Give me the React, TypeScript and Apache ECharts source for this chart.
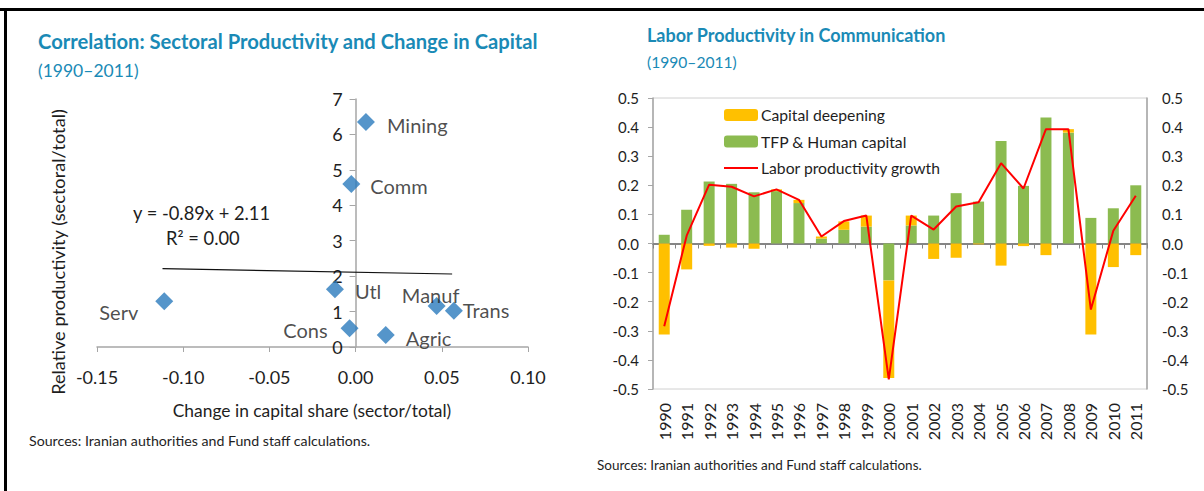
import React, { useEffect, useRef } from "react";
import * as echarts from "echarts";

// ---------- Left chart data ----------
const SECTORS = ["Mining", "Comm", "Utl", "Serv", "Manuf", "Trans", "Cons", "Agric"];
const CAPITAL_SHARE_CHANGE = [0.006, -0.0025, -0.012, -0.111, 0.047, 0.057, -0.0035, 0.0175];
const RELATIVE_PRODUCTIVITY = [6.35, 4.6, 1.63, 1.29, 1.16, 1.02, 0.53, 0.34];
const TREND_X = [-0.112, 0.056];
const TREND_Y = [2.21, 2.06];
const LEFT_X_TICKS = [-0.15, 0.1, 0.05];
const LEFT_Y_TICKS = [0, 7, 1];

// ---------- Right chart data ----------
const YEARS = [
  "1990", "1991", "1992", "1993", "1994", "1995", "1996", "1997", "1998", "1999", "2000",
  "2001", "2002", "2003", "2004", "2005", "2006", "2007", "2008", "2009", "2010", "2011",
];
const CAPITAL_DEEPENING = [
  -0.313, -0.089, -0.008, -0.014, -0.018, 0.006, 0.011, 0.007, 0.029, 0.038, -0.335,
  0.034, -0.053, -0.049, -0.003, -0.076, -0.009, -0.04, 0.012, -0.313, -0.081, -0.04,
];
const TFP_HUMAN_CAPITAL = [
  0.03, 0.116, 0.213, 0.205, 0.176, 0.18, 0.139, 0.017, 0.047, 0.058, -0.127,
  0.062, 0.096, 0.173, 0.144, 0.352, 0.198, 0.433, 0.381, 0.088, 0.121, 0.2,
];
const LABOR_PRODUCTIVITY = [
  -0.284, 0.027, 0.202, 0.195, 0.162, 0.186, 0.15, 0.024, 0.077, 0.096, -0.467,
  0.096, 0.048, 0.127, 0.142, 0.276, 0.189, 0.393, 0.393, -0.227, 0.044, 0.164,
];
const RIGHT_Y_TICKS = [-0.5, 0.5, 0.1];

// label layout (presentation only)
const LABEL_LAYOUT: any[] = [
  { position: "right", distance: 12, offset: [0, 3] },
  { position: "right", distance: 10, offset: [0, 2] },
  { position: "right", distance: 11, offset: [0, 2] },
  { position: "left", distance: 17, offset: [0, 11] },
  { position: "inside", offset: [-6, -11] },
  { position: "right", distance: 0, offset: [0, -1] },
  { position: "left", distance: 13, offset: [0, 2] },
  { position: "right", distance: 11, offset: [0, 3] },
];

const FONT = "Lato";
const TITLE_COLOR = "#1a8ab6";
const TEXT = "#1e1e1e";
const AXIS_GRAY = "#a6a6a6";

const LEFT_GRID = { left: 97, top: 99, width: 431, height: 248 };

export default function App() {
  const ref = useRef<HTMLDivElement>(null);
  useEffect(() => {
    const chart = echarts.init(ref.current!, null, { renderer: "svg" });
    // y axis of the left chart crosses the x axis at 0
    const zeroOffset = -LEFT_GRID.width * (0 - LEFT_X_TICKS[0]) / (LEFT_X_TICKS[1] - LEFT_X_TICKS[0]);
    const option: any = {
      animation: false,
      backgroundColor: "#ffffff",
      textStyle: { fontFamily: FONT },
      grid: [
        { ...LEFT_GRID, show: false },
        { left: 653, top: 98, width: 494, height: 291, show: true, borderColor: "#d0d0d0", borderWidth: 1, backgroundColor: "transparent" },
      ],
      xAxis: [
        {
          type: "value", gridIndex: 0,
          min: LEFT_X_TICKS[0], max: LEFT_X_TICKS[1], interval: LEFT_X_TICKS[2],
          axisLine: { onZero: false, lineStyle: { color: AXIS_GRAY, width: 1.5 } },
          axisTick: { show: true, inside: false, length: 5, lineStyle: { color: AXIS_GRAY } },
          splitLine: { show: false },
          axisLabel: { formatter: (v: number) => v.toFixed(2), fontSize: 18, color: TEXT, fontFamily: FONT, margin: 21 },
        },
        {
          type: "category", gridIndex: 1, data: YEARS, position: "bottom",
          axisLine: { show: false, onZero: false },
          axisTick: { show: false },
          axisLabel: { rotate: 90, fontSize: 16, color: TEXT, fontFamily: FONT, margin: 14, interval: 0 },
        },
        {
          type: "category", gridIndex: 1, data: YEARS, position: "bottom",
          axisLine: { show: true, onZero: true, onZeroAxisIndex: 1, lineStyle: { color: "#858585", width: 2 } },
          axisTick: { show: true, inside: false, length: 5, interval: 0, lineStyle: { color: "#858585", width: 1 } },
          axisLabel: { show: false },
        },
      ],
      yAxis: [
        {
          type: "value", gridIndex: 0, position: "left", offset: zeroOffset,
          min: LEFT_Y_TICKS[0], max: LEFT_Y_TICKS[1], interval: LEFT_Y_TICKS[2],
          axisLine: { show: true, onZero: false, lineStyle: { color: AXIS_GRAY, width: 1.5 } },
          axisTick: { show: true, inside: false, length: 6, lineStyle: { color: AXIS_GRAY } },
          splitLine: { show: false },
          axisLabel: { fontSize: 18, color: TEXT, fontFamily: FONT, margin: 13 },
        },
        {
          type: "value", gridIndex: 1, position: "left",
          min: RIGHT_Y_TICKS[0], max: RIGHT_Y_TICKS[1], interval: RIGHT_Y_TICKS[2],
          axisLine: { show: true, onZero: false, lineStyle: { color: AXIS_GRAY, width: 1.5 } },
          axisTick: { show: true, inside: false, length: 5, lineStyle: { color: AXIS_GRAY } },
          splitLine: { show: false },
          axisLabel: { formatter: (v: number) => v.toFixed(1), fontSize: 15, color: TEXT, fontFamily: FONT, margin: 14 },
        },
        {
          type: "value", gridIndex: 1, position: "right",
          min: RIGHT_Y_TICKS[0], max: RIGHT_Y_TICKS[1], interval: RIGHT_Y_TICKS[2],
          axisLine: { show: true, onZero: false, lineStyle: { color: AXIS_GRAY, width: 1.5 } },
          axisTick: { show: false },
          splitLine: { show: false },
          axisLabel: { formatter: (v: number) => v.toFixed(1), fontSize: 15, color: TEXT, fontFamily: FONT, margin: 15 },
        },
      ],
      legend: {
        left: 718, top: 102, orient: "vertical",
        itemWidth: 34, itemHeight: 12, itemGap: 10.5,
        textStyle: { fontSize: 15.7, color: TEXT, fontFamily: FONT, padding: [0, 0, 0, -2] },
        data: [
          { name: "Capital deepening" },
          { name: "TFP & Human capital" },
          { name: "Labor productivity growth", itemStyle: { opacity: 0 } },
        ],
      },
      series: [
        {
          type: "line", xAxisIndex: 0, yAxisIndex: 0,
          data: TREND_X.map((x, i) => [x, TREND_Y[i]]),
          symbol: "none", lineStyle: { color: "#111", width: 1.2 }, z: 1,
        },
        {
          type: "scatter", xAxisIndex: 0, yAxisIndex: 0,
          symbol: "diamond", symbolSize: 18,
          itemStyle: { color: "#2a7bbd" },
          data: SECTORS.map((s, i) => ({
            value: [CAPITAL_SHARE_CHANGE[i], RELATIVE_PRODUCTIVITY[i]],
            name: s,
            label: { show: true, formatter: s, fontSize: 20, color: TEXT, fontFamily: FONT, ...LABEL_LAYOUT[i] },
          })),
        },
        {
          name: "TFP & Human capital", type: "bar", xAxisIndex: 1, yAxisIndex: 1, stack: "contrib",
          barWidth: 11, data: TFP_HUMAN_CAPITAL,
          itemStyle: { color: "#8cbb50" },
        },
        {
          name: "Capital deepening", type: "bar", xAxisIndex: 1, yAxisIndex: 1, stack: "contrib",
          barWidth: 11, data: CAPITAL_DEEPENING,
          itemStyle: { color: "#ffc000" },
        },
        {
          name: "Labor productivity growth", type: "line", xAxisIndex: 1, yAxisIndex: 1,
          data: LABOR_PRODUCTIVITY, symbol: "none", showSymbol: false,
          lineStyle: { color: "#ff0000", width: 2 }, itemStyle: { color: "#ff0000" }, z: 5,
        },
      ],
      graphic: [
        { type: "rect", shape: { x: 0, y: 8, width: 1204, height: 3 }, style: { fill: "#000" } },
        { type: "rect", shape: { x: 4, y: 8, width: 3, height: 483 }, style: { fill: "#000" } },
        { type: "text", x: 38, y: 41, style: { text: "Correlation: Sectoral Productivity and Change in Capital", fill: TITLE_COLOR, font: `bold 20.2px ${FONT}`, verticalAlign: "middle" } },
        { type: "text", x: 38, y: 70, style: { text: "(1990–2011)", fill: TITLE_COLOR, font: `17.5px ${FONT}`, verticalAlign: "middle" } },
        { type: "text", x: 647, y: 35, style: { text: "Labor Productivity in Communication", fill: TITLE_COLOR, font: `bold 18px ${FONT}`, verticalAlign: "middle" } },
        { type: "text", x: 647, y: 62, style: { text: "(1990–2011)", fill: TITLE_COLOR, font: `15.6px ${FONT}`, verticalAlign: "middle" } },
        { type: "text", x: 58, y: 252, rotation: Math.PI / 2, style: { text: "Relative productivity (sectoral/total)", fill: TEXT, font: `18.2px ${FONT}`, align: "center", verticalAlign: "middle" } },
        { type: "text", x: 312, y: 410, style: { text: "Change in capital share (sector/total)", fill: TEXT, font: `17.4px ${FONT}`, align: "center", verticalAlign: "middle" } },
        { type: "text", x: 133, y: 213, style: { text: "y = -0.89x + 2.11", fill: TEXT, font: `18.3px ${FONT}`, verticalAlign: "middle" } },
        { type: "text", x: 166, y: 238, style: { text: "R² = 0.00", fill: TEXT, font: `18.3px ${FONT}`, verticalAlign: "middle" } },
        { type: "text", x: 29, y: 440, style: { text: "Sources: Iranian authorities and Fund staff calculations.", fill: TEXT, font: `14.2px ${FONT}`, verticalAlign: "middle" } },
        { type: "text", x: 597, y: 465, style: { text: "Sources: Iranian authorities and Fund staff calculations.", fill: TEXT, font: `13.5px ${FONT}`, verticalAlign: "middle" } },
      ],
    };
    chart.setOption(option);
    return () => chart.dispose();
  }, []);
  return <div ref={ref} style={{ position: "fixed", left: 0, top: 0, width: 1204, height: 491 }} />;
}
